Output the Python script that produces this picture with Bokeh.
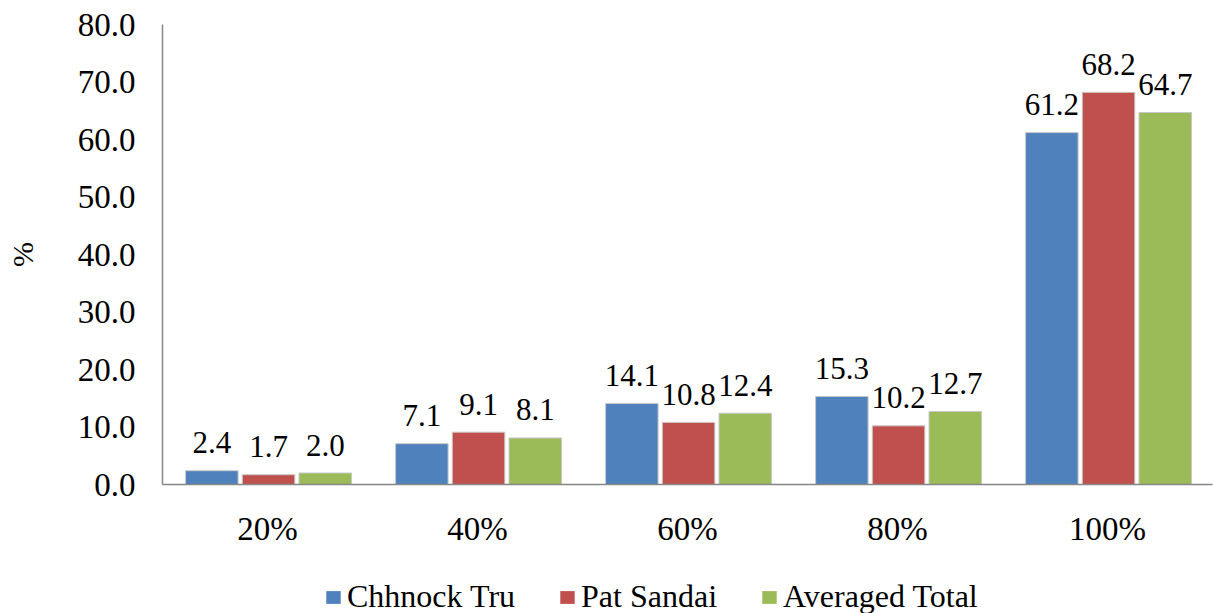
from bokeh.plotting import figure
from bokeh.layouts import column
from bokeh.models import (ColumnDataSource, FactorRange, Range1d, FixedTicker,
                          NumeralTickFormatter, Legend, LegendItem)
from bokeh.transform import dodge
from bokeh.core.properties import value
from bokeh.embed import file_html
from bokeh.resources import INLINE

# Share of respondents by level
categories = ["20%", "40%", "60%", "80%", "100%"]
chhnock_tru = [2.4, 7.1, 14.1, 15.3, 61.2]
pat_sandai = [1.7, 9.1, 10.8, 10.2, 68.2]
averaged_total = [2.0, 8.1, 12.4, 12.7, 64.7]

series_names = ["Chhnock Tru", "Pat Sandai", "Averaged Total"]
series_values = [chhnock_tru, pat_sandai, averaged_total]
colors = ["#4F81BD", "#C0504D", "#9BBB59"]
offsets = [-0.265, 0.005, 0.275]

FONT = "Liberation Serif"

p = figure(x_range=FactorRange(*categories), y_range=Range1d(0, 80),
           frame_width=1050, frame_height=460,
           output_backend="svg", toolbar_location=None,
           min_border_left=162, min_border_right=1, min_border_top=24,
           min_border_bottom=60)

p.xgrid.grid_line_color = None
p.ygrid.grid_line_color = None
p.outline_line_color = None
p.background_fill_color = "white"
p.border_fill_color = "white"

for name, vals, col, off in zip(series_names, series_values, colors, offsets):
    src = ColumnDataSource(dict(cat=categories, val=vals,
                                lab=["%.1f" % v for v in vals]))
    p.vbar(x=dodge("cat", off, range=p.x_range), top="val", width=0.25,
           source=src, fill_color=col, line_color="#C8C8C8", line_width=1)
    p.text(x=dodge("cat", off, range=p.x_range), y="val", text="lab", source=src,
           text_align="center", text_baseline="middle", y_offset=-28,
           text_font=value(FONT), text_font_size="31px", text_color="black")

# axes
p.yaxis.ticker = FixedTicker(ticks=list(range(0, 81, 10)))
p.yaxis.formatter = NumeralTickFormatter(format="0.0")
p.yaxis.axis_label = "%"
for ax in (p.xaxis[0], p.yaxis[0]):
    ax.axis_line_color = "#868686"
    ax.axis_line_width = 1.5
    ax.major_tick_line_color = None
    ax.minor_tick_line_color = None
    ax.major_label_text_font = FONT
    ax.major_label_text_font_size = "33px"
    ax.major_label_text_color = "black"
    ax.axis_label_text_font = FONT
    ax.axis_label_text_font_size = "30px"
    ax.axis_label_text_color = "black"
    ax.axis_label_text_font_style = "normal"
p.yaxis.major_label_standoff = 21
p.yaxis.axis_label_standoff = 36
p.xaxis.major_label_standoff = 20

# legend strip under the chart
leg = figure(width=1213, height=69, x_range=Range1d(0, 1), y_range=Range1d(0, 1),
             output_backend="svg", toolbar_location=None, min_border=0)
leg.axis.visible = False
leg.grid.grid_line_color = None
leg.outline_line_color = None
leg.border_fill_color = "white"
swatches = []
for name, col in zip(series_names, colors):
    # swatch renderers sit outside the visible range; only their legend glyph shows
    r = leg.vbar(x=[-5], top=[-5], width=0.1, fill_color=col, line_color=None)
    swatches.append(LegendItem(label=name, renderers=[r]))

legend = Legend(items=swatches, orientation="horizontal", location=(162, 3),
                label_text_font=FONT, label_text_font_size="32px",
                label_text_color="black",
                glyph_width=18, glyph_height=16, label_standoff=5, spacing=43,
                border_line_color=None, background_fill_alpha=0,
                padding=0, margin=0)
leg.add_layout(legend, "center")

layout = column(p, leg, spacing=0)
open("out.html", "w").write(file_html(layout, INLINE))
